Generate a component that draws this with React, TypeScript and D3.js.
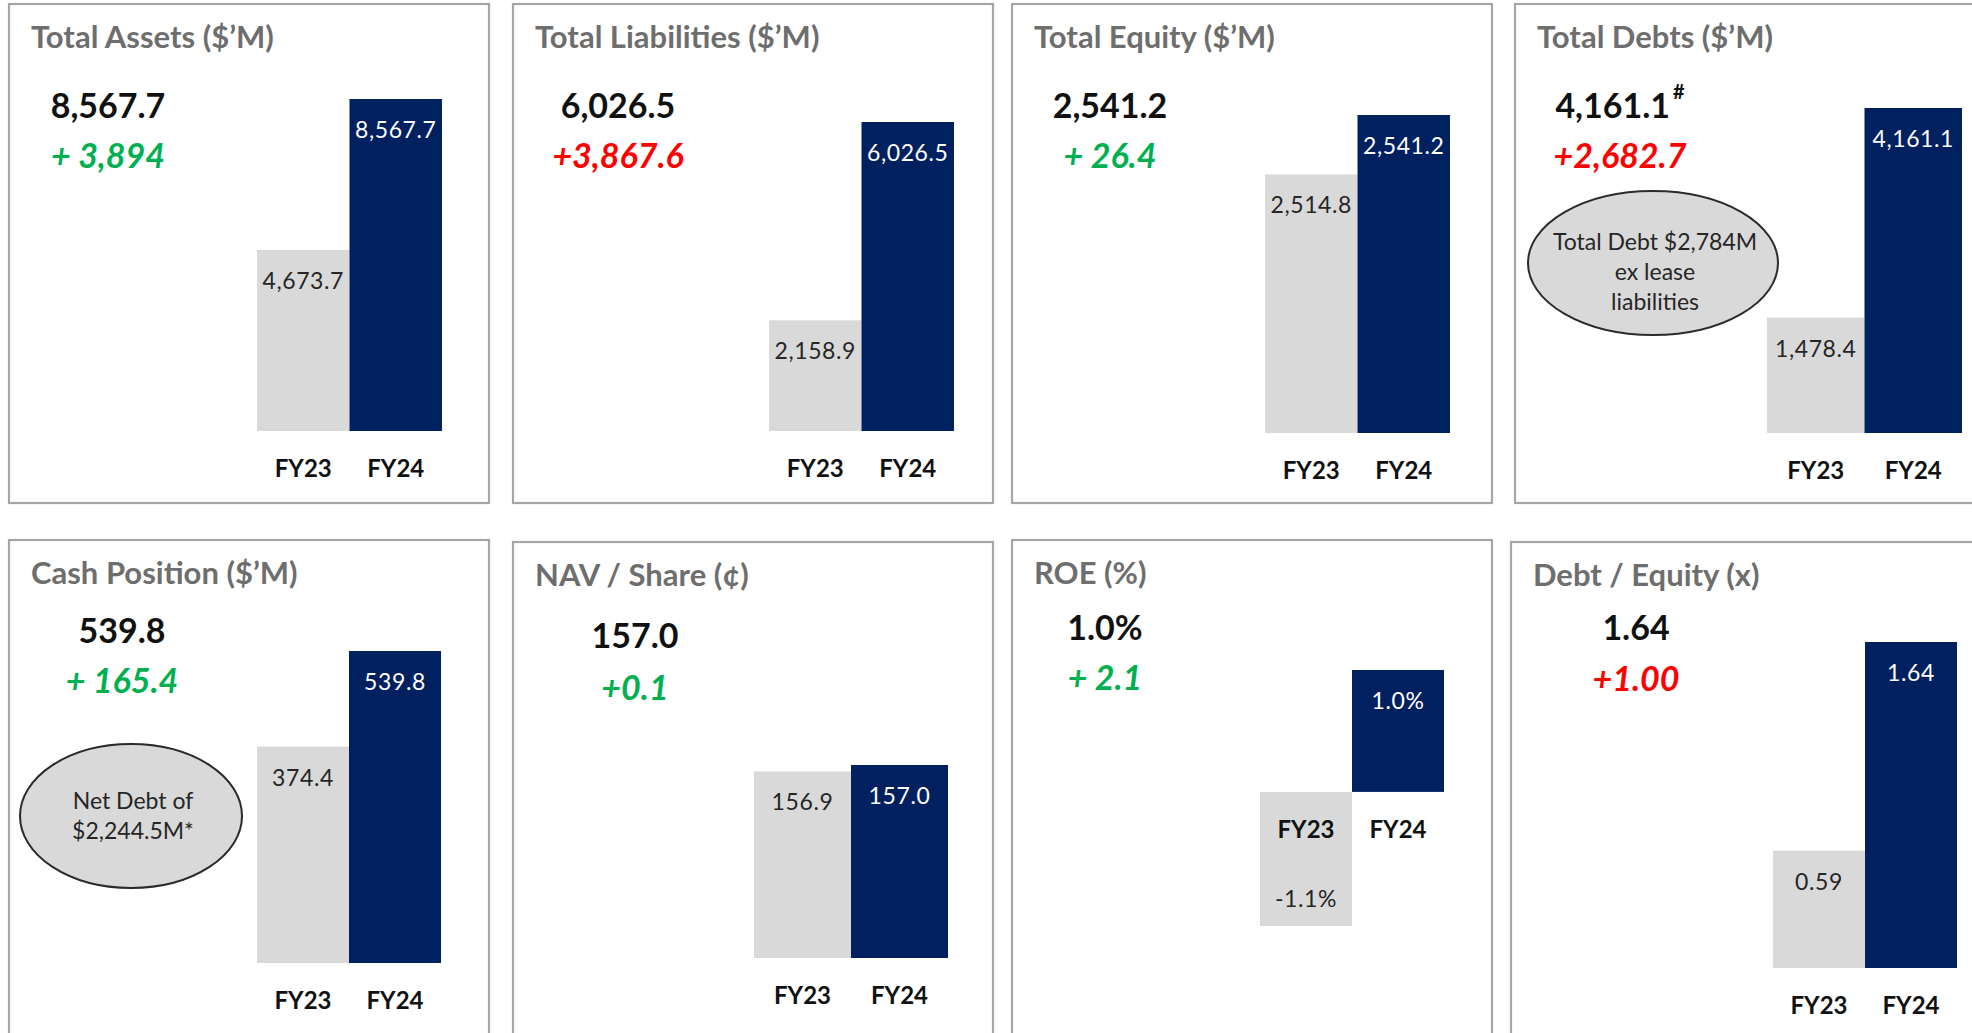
import React from 'react';
import * as d3 from 'd3';

// --- data ---
const categories = ['FY23', 'FY24'];
const titles = [
  'Total Assets ($\u2019M)', 'Total Liabilities ($\u2019M)', 'Total Equity ($\u2019M)', 'Total Debts ($\u2019M)',
  'Cash Position ($\u2019M)', 'NAV / Share (\u00a2)', 'ROE (%)', 'Debt / Equity (x)',
];
const fy23Values = [4673.7, 2158.9, 2514.8, 1478.4, 374.4, 156.9, -1.1, 0.59];
const fy24Values = [8567.7, 6026.5, 2541.2, 4161.1, 539.8, 157.0, 1.0, 1.64];
const fy23Labels = ['4,673.7', '2,158.9', '2,514.8', '1,478.4', '374.4', '156.9', '-1.1%', '0.59'];
const fy24Labels = ['8,567.7', '6,026.5', '2,541.2', '4,161.1', '539.8', '157.0', '1.0%', '1.64'];
const headlines = ['8,567.7', '6,026.5', '2,541.2', '4,161.1', '539.8', '157.0', '1.0%', '1.64'];
const headlineMarks = ['', '', '', '#', '', '', '', ''];
const changes = ['+ 3,894', '+3,867.6', '+ 26.4', '+2,682.7', '+ 165.4', '+0.1', '+ 2.1', '+1.00'];
const favourable = [true, false, true, false, true, true, true, false];
const axisMins = [0, 0, 2400, 0, 0, 154, -1.1, 0];
const notes: string[][] = [[], [], [], ['Total Debt $2,784M', 'ex lease', 'liabilities'], ['Net Debt of', '$2,244.5M*'], [], [], []];

// --- layout ---
const W = 1972;
const H = 1033;
const FONT = 'Lato, "Open Sans", sans-serif';
const boxes = [
  { x: 9, y: 4 }, { x: 513, y: 4 }, { x: 1012, y: 4 }, { x: 1515, y: 4 },
  { x: 9, y: 540 }, { x: 513, y: 542 }, { x: 1012, y: 540 }, { x: 1511, y: 542 },
];
const BOX_W = 480;
const BOX_H = 499;
// bar band and vertical range per panel
const plots = [
  { x0: 257, x1: 442, yMin: 431, yMax: 99 },
  { x0: 769, x1: 954, yMin: 431, yMax: 122 },
  { x0: 1265, x1: 1450, yMin: 433, yMax: 115 },
  { x0: 1767, x1: 1962, yMin: 433, yMax: 108 },
  { x0: 257, x1: 441, yMin: 963, yMax: 651 },
  { x0: 754, x1: 948, yMin: 958, yMax: 765 },
  { x0: 1260, x1: 1444, yMin: 926, yMax: 670 },
  { x0: 1773, x1: 1957, yMin: 968, yMax: 642 },
];
// headline / change text centres, relative to the box
const headPos = [
  { cx: 99, hy: 114, cy: 164 }, { cx: 105, hy: 114, cy: 164 }, { cx: 98, hy: 114, cy: 164 }, { cx: 105, hy: 114, cy: 164 },
  { cx: 113, hy: 103, cy: 153 }, { cx: 122, hy: 106, cy: 158 }, { cx: 93, hy: 100, cy: 150 }, { cx: 125, hy: 98, cy: 149 },
];
const ellipses = [
  null, null, null,
  { cx: 1653, cy: 263, rx: 125, ry: 72, dy: 17 },
  { cx: 131, cy: 816, rx: 111, ry: 72, dy: 8 },
  null, null, null,
];

const NAVY = '#002060';
const LIGHT = '#d9d9d9';

const Panel: React.FC<{ i: number }> = ({ i }) => {
  const box = boxes[i];
  const p = plots[i];
  const vals = [fy23Values[i], fy24Values[i]];
  const labels = [fy23Labels[i], fy24Labels[i]];
  const x = d3.scaleBand<string>().domain(categories).range([p.x0, p.x1]).padding(0);
  const y = d3.scaleLinear()
    .domain([axisMins[i], d3.max(vals) as number])
    .range([p.yMin, p.yMax]);
  const base = axisMins[i] < 0 ? y(0) : y(axisMins[i]);
  const hp = headPos[i];
  const el = ellipses[i];

  return (
    <g>
      <rect x={box.x} y={box.y} width={BOX_W} height={BOX_H} fill="#fff" stroke="#a6a6a6" strokeWidth={2.2} />
      <text x={box.x + 22} y={box.y + 44} fontSize={31} fontWeight={700} fill="#6e6e6e">{titles[i]}</text>
      <text x={box.x + hp.cx} y={box.y + hp.hy} textAnchor="middle" fontSize={34} fontWeight={700} fill="#111">
        {headlines[i]}
        {headlineMarks[i] && <tspan fontSize={20} dy={-19} dx={3}>{headlineMarks[i]}</tspan>}
      </text>
      <text x={box.x + hp.cx} y={box.y + hp.cy} textAnchor="middle" fontSize={34} fontWeight={700} fontStyle="italic"
        fill={favourable[i] ? '#00b050' : '#ff0000'}>{changes[i]}</text>

      {el && (
        <g>
          <ellipse cx={el.cx} cy={el.cy} rx={el.rx} ry={el.ry} fill={LIGHT} stroke="#2b2b2b" strokeWidth={2} />
          {notes[i].map((line, k) => (
            <text key={k} x={el.cx + 2} y={el.cy - (notes[i].length - 1) * 15 + k * 30 + el.dy} textAnchor="middle"
              fontSize={23} fill="#262626">{line}</text>
          ))}
        </g>
      )}

      {categories.map((c, k) => {
        const v = vals[k];
        const top = Math.min(y(v), base);
        const h = Math.abs(y(v) - base);
        const labelY = v >= 0 ? y(v) + 39 : y(v) - 19;
        return (
          <g key={c}>
            <rect x={x(c)} y={top} width={x.bandwidth()} height={h} fill={k === 0 ? LIGHT : NAVY} />
            <text x={(x(c) as number) + x.bandwidth() / 2} y={labelY} textAnchor="middle" fontSize={23}
              letterSpacing={0.6} fill={k === 0 ? '#262626' : '#ffffff'}>{labels[k]}</text>
            <text x={(x(c) as number) + x.bandwidth() / 2} y={base + 46} textAnchor="middle" fontSize={24}
              fontWeight={700} fill="#111">{c}</text>
          </g>
        );
      })}
    </g>
  );
};

export default function App() {
  return (
    <svg width={W} height={H} viewBox={`0 0 ${W} ${H}`} fontFamily={FONT}
      style={{ position: 'absolute', left: 0, top: 0, background: '#fff' }}>
      <rect width={W} height={H} fill="#fff" />
      {titles.map((_, i) => <Panel key={i} i={i} />)}
    </svg>
  );
}
